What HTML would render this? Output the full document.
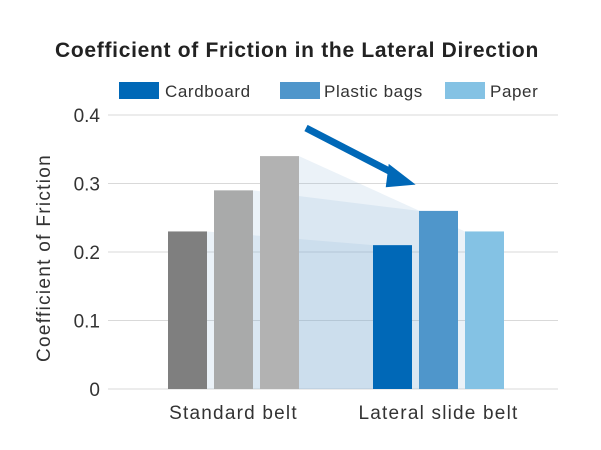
<!DOCTYPE html>
<html><head><meta charset="utf-8"><style>
body{margin:0;background:#fff;}
svg{display:block;font-family:"Liberation Sans",sans-serif;}
</style></head><body>
<svg id="c" width="601" height="450">
<text x="297" y="57" text-anchor="middle" font-size="21" font-weight="bold" letter-spacing="0.7" fill="#222">Coefficient of Friction in the Lateral Direction</text>
<g>
<rect x="119" y="82" width="40" height="17" fill="#0068b7"/>
<text x="165" y="97" font-size="17" letter-spacing="0.6" fill="#333">Cardboard</text>
<rect x="280" y="82" width="40" height="17" fill="#4f96cb"/>
<text x="324" y="97" font-size="17" letter-spacing="0.6" fill="#333">Plastic bags</text>
<rect x="445" y="82" width="40" height="17" fill="#84c2e4"/>
<text x="490" y="97" font-size="17" letter-spacing="0.6" fill="#333">Paper</text>
</g>
<text transform="translate(50,258) rotate(-90)" text-anchor="middle" font-size="19" letter-spacing="1.3" fill="#333">Coefficient of Friction</text>
<g id="grid"></g><g id="bands"></g><g id="bars"></g><g id="labels"></g>
<g>
<line x1="306" y1="128" x2="395" y2="174" stroke="#0068b7" stroke-width="7"/>
<polygon points="390,163 415,186 385,186" fill="#0068b7" transform="rotate(-5,400,178)"/>
</g>
</svg>
<script>
const categories=["Standard belt","Lateral slide belt"];
const series=["Cardboard","Plastic bags","Paper"];
const standardValues=[0.23,0.29,0.34];
const lateralValues=[0.21,0.26,0.23];
const yTicks=[0,0.1,0.2,0.3,0.4];
const tickLabels=["0","0.1","0.2","0.3","0.4"];
const ns="http://www.w3.org/2000/svg";
const y0=389,yTop=115,x0=108,x1=558;
function y(v){return y0-(v/0.4)*(y0-yTop);}
const bw=39,gap=7,groupStart=[168,373];
function bx(g,i){return groupStart[g]+i*(bw+gap);}
function mk(t,a,p){const e=document.createElementNS(ns,t);for(const k in a)e.setAttribute(k,a[k]);p.appendChild(e);return e;}
const grid=document.getElementById('grid');
yTicks.forEach((t,i)=>{
 const l=mk('line',{x1:x0,x2:x1,y1:y(t),y2:y(t),stroke:'#d9d9d9','stroke-width':1},grid);
 
 
 const tx=mk('text',{x:100,y:y(t)+7,'text-anchor':'end','font-size':19,fill:'#333'},grid);
 tx.textContent=tickLabels[i];
 
 
});
const bands=document.getElementById('bands');
series.forEach((s,i)=>{
 const xa=bx(0,i)+bw,xb=bx(1,i);
 const p=mk('polygon',{points:`${xa},${y(standardValues[i])} ${xb},${y(lateralValues[i])} ${xb},${y0} ${xa},${y0}`,fill:'rgb(135,175,216)','fill-opacity':0.17},bands);
 
 
});
const bars=document.getElementById('bars');
const grayCols=['#7f7f7f','#a9aaaa','#b2b2b2'],blueCols=['#0068b7','#4f96cb','#84c2e4'];
series.forEach((s,i)=>{
 let r=mk('rect',{x:bx(0,i),y:y(standardValues[i]),width:bw,height:y0-y(standardValues[i]),fill:grayCols[i]},bars);
 
 
 r=mk('rect',{x:bx(1,i),y:y(lateralValues[i]),width:bw,height:y0-y(lateralValues[i]),fill:blueCols[i]},bars);
 
 
});
const labels=document.getElementById('labels');
categories.forEach((c,g)=>{
 const t=mk('text',{x:bx(g,1)+bw/2,y:419,'text-anchor':'middle','font-size':19,'letter-spacing':1.2,fill:'#333'},labels);
 t.textContent=c;
 
 
});
</script>
</body></html>
